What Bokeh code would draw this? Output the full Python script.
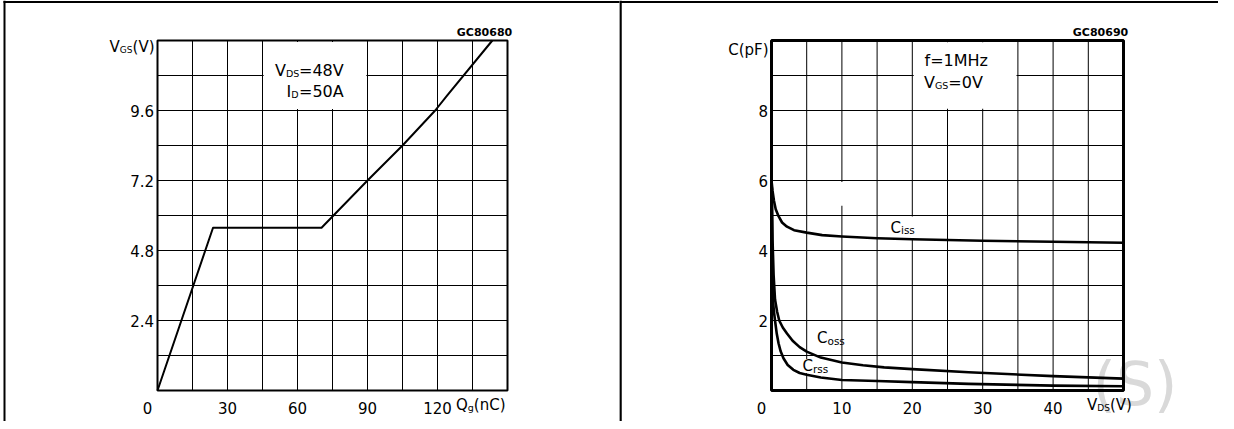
from bokeh.plotting import figure
from bokeh.layouts import row
from bokeh.models import Range1d, Label
from bokeh.core.properties import value
from bokeh.embed import file_html
from bokeh.resources import INLINE

FONT = "DejaVu Sans"
CANVAS_H = 421
MID = 0.47  # distance (in em) from the text middle down to the baseline

# ---------------- Left chart: gate charge ----------------
qg_nc = [0, 23.8, 70.3, 90, 105, 119, 124, 143.5]
vgs_v = [0, 5.58, 5.58, 7.2, 8.4, 9.6, 10.1, 12.0]
left_x_grid = [0, 15, 30, 45, 60, 75, 90, 105, 120, 135, 150]
left_y_grid = [0, 1.2, 2.4, 3.6, 4.8, 6.0, 7.2, 8.4, 9.6, 10.8, 12.0]
left_x_labels = [30, 60, 90, 120]
left_y_labels = [2.4, 4.8, 7.2, 9.6]

# ---------------- Right chart: capacitances ----------------
vds_ciss = [0, 0.15, 0.35, 0.6, 1.0, 1.5, 2.2, 3.2, 5, 7.2, 10, 15, 20, 30, 40, 50]
ciss_pf = [6.0, 5.7, 5.42, 5.18, 4.98, 4.8, 4.68, 4.58, 4.51, 4.44, 4.4, 4.35, 4.32, 4.28, 4.25, 4.22]
vds_coss = [0.05, 0.15, 0.3, 0.5, 0.8, 1.1, 1.6, 2.2, 3.0, 4.0, 5.0, 7.0, 10, 13, 16, 20, 28, 40, 50]
coss_pf = [5.8, 4.3, 3.3, 2.6, 2.25, 2.0, 1.8, 1.63, 1.42, 1.24, 1.11, 0.94, 0.8, 0.72, 0.66, 0.61, 0.52, 0.41, 0.34]
vds_crss = [0.03, 0.1, 0.2, 0.35, 0.5, 0.75, 1.0, 1.3, 1.7, 2.3, 3.1, 4.0, 5, 7, 10, 15, 20, 28, 40, 50]
crss_pf = [5.6, 3.6, 2.6, 2.25, 2.0, 1.62, 1.35, 1.12, 0.92, 0.73, 0.59, 0.5, 0.45, 0.37, 0.3, 0.27, 0.24, 0.19, 0.14, 0.12]
right_x_grid = [0, 5, 10, 15, 20, 25, 30, 35, 40, 45, 50]
right_y_grid = [0, 1, 2, 3, 4, 5, 6, 7, 8, 9, 10]
right_x_labels = [10, 20, 30, 40]
right_y_labels = [2, 4, 6, 8]

# DejaVu Sans advance widths (em), used to place subscript pieces side by side
W = {'V': 0.684, 'G': 0.775, 'S': 0.635, 'D': 0.770, 'I': 0.295, '=': 0.838,
     'A': 0.684, '(': 0.390, ')': 0.390, 'C': 0.698, 'p': 0.635, 'F': 0.575,
     'f': 0.352, 'M': 0.863, 'H': 0.752, 'z': 0.525, 'Q': 0.787, 'g': 0.635,
     'n': 0.634, 'i': 0.278, 's': 0.521, 'o': 0.612, 'r': 0.411, '.': 0.318,
     't': 0.392}
for d in "0123456789":
    W[d] = 0.636


def tw(s, size):
    return sum(W.get(c, 0.6) for c in s) * size


class Panel:
    """A figure whose frame is the whole canvas; the data box (grid) sits at
    the given page pixels, so every mark goes through Bokeh's own scales."""

    def __init__(self, cx0, cw, gx0, gx1, gy_top, gy_bot, xr, yr):
        self.gx0, self.gy_bot = gx0, gy_bot
        self.xr, self.yr = xr, yr
        self.sx = (gx1 - gx0) / (xr[1] - xr[0])
        self.sy = (gy_bot - gy_top) / (yr[1] - yr[0])
        p = figure(width=cw, height=CANVAS_H,
                   x_range=Range1d(self.fx(cx0), self.fx(cx0 + cw)),
                   y_range=Range1d(self.fy(CANVAS_H), self.fy(0)),
                   min_border=0, min_border_left=0, min_border_right=0,
                   min_border_top=0, min_border_bottom=0,
                   x_axis_location=None, y_axis_location=None,
                   toolbar_location=None, output_backend="svg", title=None)
        p.outline_line_color = None
        p.background_fill_color = "white"
        p.border_fill_color = "white"
        for g in list(p.xgrid) + list(p.ygrid):
            g.visible = False
        self.p = p

    def fx(self, px):
        return self.xr[0] + (px - self.gx0) / self.sx

    def fy(self, py):
        return self.yr[0] + (self.gy_bot - py) / self.sy

    def grid(self, xs, ys):
        x0, x1 = self.xr
        y0, y1 = self.yr
        self.p.segment(x0=xs, y0=[y0] * len(xs), x1=xs, y1=[y1] * len(xs),
                       line_color="black", line_width=1)
        self.p.segment(x0=[x0] * len(ys), y0=ys, x1=[x1] * len(ys), y1=ys,
                       line_color="black", line_width=1)

    def frame_box(self, lw):
        self.p.quad(left=[self.xr[0]], right=[self.xr[1]], bottom=[self.yr[0]],
                    top=[self.yr[1]], fill_color=None, line_color="black",
                    line_width=lw)

    def hline_px(self, py, px0, px1, lw):
        self.p.segment(x0=[self.fx(px0)], y0=[self.fy(py)], x1=[self.fx(px1)],
                       y1=[self.fy(py)], line_color="black", line_width=lw)

    def vline_px(self, px, py0, py1, lw):
        self.p.segment(x0=[self.fx(px)], y0=[self.fy(py0)], x1=[self.fx(px)],
                       y1=[self.fy(py1)], line_color="black", line_width=lw)

    def ticks(self, xvals, yvals, x_base_py, y_right_px, size=15):
        p = self.p
        p.text(x=xvals, y=[self.fy(x_base_py - MID * size)] * len(xvals),
               text=[f"{v:g}" for v in xvals], text_align="center",
               text_baseline="middle", text_font=value(FONT),
               text_font_size=value(f"{size}px"), text_color="black")
        p.text(x=[self.fx(y_right_px)] * len(yvals), y=yvals,
               text=[f"{v:g}" for v in yvals], text_align="right",
               text_baseline="middle", text_font=value(FONT),
               text_font_size=value(f"{size}px"), text_color="black")

    def put(self, px, py, pieces, align="left", color="black", bold=False):
        """Text pieces sharing one baseline py (page px), starting at px."""
        total = sum(tw(t, s) for t, s in pieces)
        x = px - total if align == "right" else px
        for t, s in pieces:
            self.p.add_layout(Label(
                x=self.fx(x), y=self.fy(py - MID * s), text=t, text_font=FONT,
                text_font_size=f"{s}px", text_align="left",
                text_baseline="middle", text_color=color,
                text_font_style="bold" if bold else "normal",
                level="underlay" if color != "black" else "annotation"))
            x += tw(t, s)


# ---------- left chart ----------
L = Panel(0, 619, 157, 507, 40, 390, (0, 150), (0, 12))
p1 = L.p
L.grid(left_x_grid, left_y_grid)
p1.quad(left=[45.5], right=[89.5], bottom=[9.65], top=[11.95],
        fill_color="white", line_color=None)
L.frame_box(2)
p1.line(qg_nc, vgs_v, line_color="black", line_width=2, line_join="round")
L.ticks(left_x_labels, left_y_labels, 415, 153.5)
# outer drawing frame
L.hline_px(1.5, 3, 640, 2)
L.vline_px(4, 0, 440, 2)
L.vline_px(620, 0, 440, 2.5)

L.put(147 - tw("0", 15) / 2, 415, [("0", 15)])
L.put(507.5, 37.5, [("GC80680", 11)], align="right", bold=True)
L.put(154, 53.5, [("V", 15), ("GS", 9), ("(V)", 15)], align="right")
L.put(455.5, 411.5, [("Q", 15), ("g", 9.5), ("(nC)", 15)])
L.put(274.5, 77.5, [("V", 16), ("DS", 9.5)])
L.put(298.5, 77.5, [("=48V", 16)])
L.put(286.0, 98.5, [("I", 16), ("D", 9.5)])
L.put(298.5, 98.5, [("=50A", 16)])

# ---------- right chart ----------
R = Panel(619, 599, 771, 1123, 40, 390, (0, 50), (0, 10))
p2 = R.p
# faint watermark, painted beneath the grid
R.put(1092, 412, [("(S)", 60)], color="#d9d9d9")
R.grid(right_x_grid, right_y_grid)
p2.quad(left=[20.2, 9.8, 19.8, 4.8], right=[34.8, 10.2, 20.2, 5.2],
        bottom=[8.05, 5.28, 4.3, 0.5], top=[9.95, 5.96, 4.97, 0.9],
        fill_color="white", line_color=None)
R.frame_box(3)
for xs, ys in ((vds_ciss, ciss_pf), (vds_coss, coss_pf), (vds_crss, crss_pf)):
    p2.line(xs, ys, line_color="black", line_width=2.6, line_join="round")
R.ticks(right_x_labels, right_y_labels, 414.5, 767.5)
R.hline_px(1.5, 600, 1228, 2)
R.vline_px(620, 0, 440, 2.5)

R.put(761 - tw("0", 15) / 2, 414.5, [("0", 15)])
R.put(1123.5, 37.5, [("GC80690", 11)], align="right", bold=True)
R.put(768, 57, [("C(pF)", 15)], align="right")
R.put(1086.5, 411.5, [("V", 15), ("DS", 9), ("(V)", 15)])
R.put(924, 68, [("f=1MHz", 16)])
R.put(923.5, 89.5, [("V", 16), ("GS", 9.5), ("=0V", 16)])
R.put(890, 234.5, [("C", 15), ("iss", 10.5)])
R.put(816.5, 345, [("C", 15), ("oss", 10.5)])
R.put(802, 373, [("C", 15), ("rss", 10.5)])

layout = row(p1, p2, spacing=0)
open("out.html", "w").write(file_html(layout, INLINE))
